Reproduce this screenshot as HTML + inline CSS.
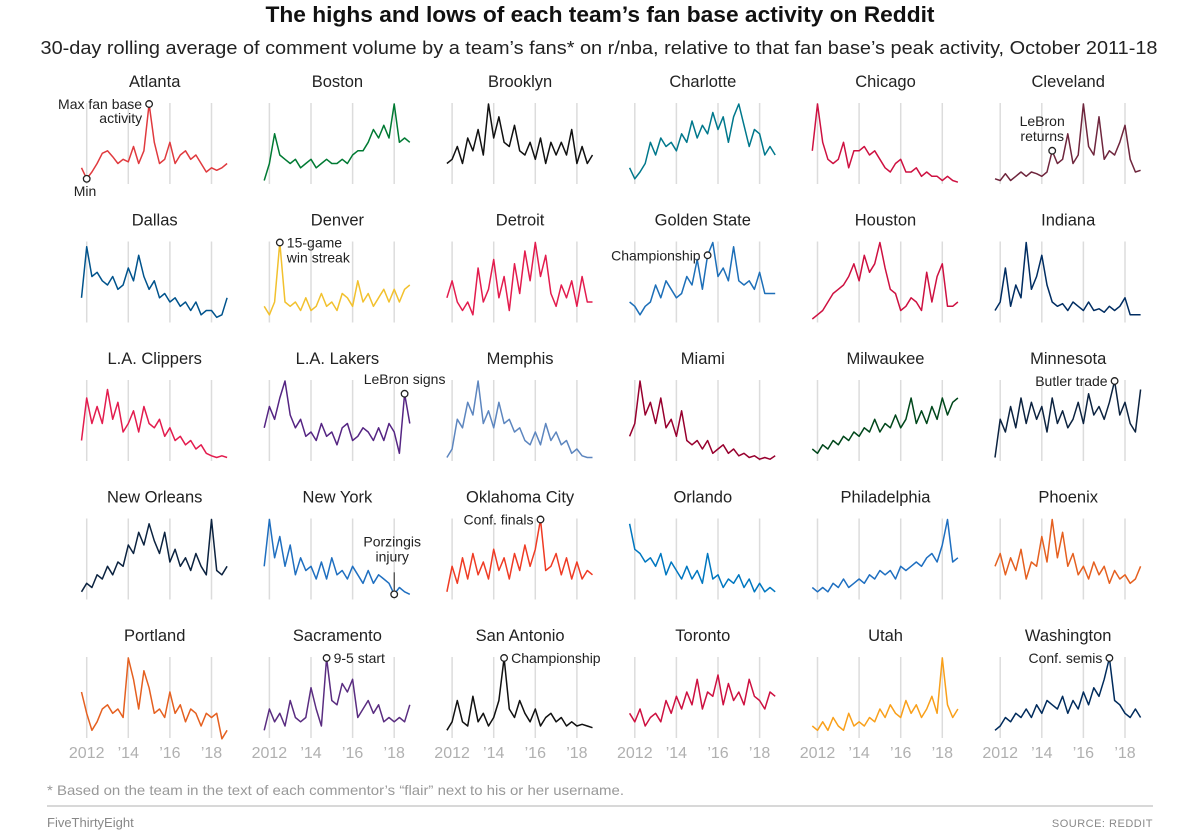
<!DOCTYPE html>
<html><head><meta charset="utf-8">
<style>
html,body{margin:0;padding:0;background:#fff;}
svg{display:block;font-family:"Liberation Sans",sans-serif;}
</style></head>
<body>
<svg id="chart" width="1200" height="836" viewBox="0 0 1200 836" xmlns="http://www.w3.org/2000/svg">
<text x="600" y="22" text-anchor="middle" font-size="22" font-weight="bold" fill="#111" textLength="669" lengthAdjust="spacingAndGlyphs">The highs and lows of each team’s fan base activity on Reddit</text>
<text x="599" y="54" text-anchor="middle" font-size="18.5" fill="#222" textLength="1117" lengthAdjust="spacingAndGlyphs">30-day rolling average of comment volume by a team’s fans* on r/nba, relative to that fan base’s peak activity, October 2011-18</text>
<g id="panels"></g>
<text x="47" y="795" font-size="14" fill="#999" textLength="577" lengthAdjust="spacingAndGlyphs">* Based on the team in the text of each commentor’s “flair” next to his or her username.</text>
<line x1="47" y1="806" x2="1153" y2="806" stroke="#ccc" stroke-width="1.5"/>
<text x="47" y="827" font-size="13" fill="#888">FiveThirtyEight</text>
<text x="1153" y="827" font-size="11" fill="#888" text-anchor="end" letter-spacing="0.5">SOURCE: REDDIT</text>
</svg>
<script>
const teams = ["Atlanta","Boston","Brooklyn","Charlotte","Chicago","Cleveland","Dallas","Denver","Detroit","Golden State","Houston","Indiana","L.A. Clippers","L.A. Lakers","Memphis","Miami","Milwaukee","Minnesota","New Orleans","New York","Oklahoma City","Orlando","Philadelphia","Phoenix","Portland","Sacramento","San Antonio","Toronto","Utah","Washington"];
const colors = ["#e03a3e","#007a33","#111111","#00788c","#ce1141","#6f263d","#00538c","#f2c12e","#e31c4e","#1d6fb8","#ce1141","#002d62","#e31c4e","#552583","#5d86bf","#98002e","#00471b","#0c2340","#0c2340","#1f6fc0","#ef3b24","#0077c0","#1f6fc0","#e56020","#e56020","#5a2d81","#111111","#ce1141","#f9a01b","#002b5c"];
const yearTicks = ["2012","’14","’16","’18"];
const tickYears = [2012,2014,2016,2018];
const sATL=[0.25,0.12,0.2,0.3,0.42,0.45,0.38,0.3,0.35,0.32,0.5,0.3,0.45,1.0,0.55,0.3,0.35,0.55,0.3,0.4,0.45,0.35,0.4,0.3,0.2,0.25,0.22,0.25,0.3];
const sBOS=[0.1,0.3,0.65,0.4,0.35,0.3,0.35,0.25,0.3,0.35,0.25,0.3,0.35,0.3,0.3,0.35,0.3,0.4,0.45,0.45,0.55,0.7,0.6,0.75,0.6,1.0,0.55,0.6,0.55];
const sBKN=[0.3,0.35,0.5,0.3,0.6,0.45,0.7,0.4,1.0,0.6,0.85,0.55,0.5,0.75,0.45,0.4,0.55,0.35,0.6,0.3,0.55,0.4,0.55,0.4,0.7,0.3,0.5,0.3,0.4];
const sCHA=[0.25,0.12,0.2,0.3,0.55,0.4,0.6,0.5,0.55,0.45,0.65,0.55,0.8,0.6,0.75,0.65,0.9,0.7,0.85,0.55,0.85,1.0,0.75,0.5,0.7,0.65,0.4,0.5,0.4];
const sCHI=[0.45,1.0,0.55,0.35,0.3,0.35,0.55,0.25,0.45,0.45,0.5,0.4,0.45,0.35,0.25,0.2,0.3,0.35,0.2,0.2,0.25,0.15,0.2,0.15,0.15,0.1,0.15,0.1,0.08];
const sCLE=[0.12,0.1,0.18,0.1,0.15,0.2,0.15,0.2,0.18,0.15,0.2,0.45,0.3,0.35,0.65,0.3,0.4,1.0,0.5,0.4,0.85,0.35,0.45,0.4,0.55,0.75,0.35,0.2,0.22];
const sDAL=[0.35,0.95,0.6,0.65,0.55,0.5,0.6,0.45,0.5,0.7,0.55,0.85,0.6,0.45,0.55,0.35,0.4,0.3,0.35,0.25,0.3,0.2,0.3,0.15,0.2,0.2,0.12,0.15,0.35];
const sDEN=[0.25,0.15,0.3,1.0,0.3,0.25,0.3,0.2,0.35,0.2,0.25,0.4,0.25,0.3,0.2,0.4,0.35,0.25,0.55,0.3,0.4,0.25,0.35,0.45,0.3,0.45,0.3,0.45,0.5];
const sDET=[0.35,0.55,0.3,0.2,0.3,0.15,0.7,0.3,0.45,0.8,0.35,0.6,0.2,0.75,0.4,0.9,0.55,1.0,0.6,0.85,0.4,0.25,0.5,0.35,0.55,0.25,0.6,0.3,0.3];
const sGSW=[0.3,0.25,0.15,0.25,0.3,0.5,0.35,0.55,0.45,0.35,0.4,0.6,0.5,0.8,0.45,0.85,1.0,0.6,0.7,0.55,0.95,0.55,0.5,0.55,0.45,0.65,0.4,0.4,0.4];
const sHOU=[0.1,0.15,0.2,0.3,0.4,0.45,0.5,0.6,0.75,0.55,0.85,0.65,0.75,1.0,0.7,0.45,0.4,0.2,0.25,0.35,0.3,0.2,0.65,0.3,0.6,0.75,0.25,0.25,0.3];
const sIND=[0.2,0.3,0.7,0.25,0.5,0.35,1.0,0.45,0.6,0.85,0.5,0.3,0.25,0.28,0.2,0.3,0.25,0.2,0.3,0.2,0.22,0.18,0.25,0.2,0.25,0.35,0.15,0.15,0.15];
const sLAC=[0.3,0.8,0.5,0.7,0.5,0.9,0.55,0.75,0.4,0.5,0.65,0.4,0.7,0.5,0.45,0.55,0.35,0.45,0.3,0.35,0.25,0.3,0.2,0.25,0.15,0.12,0.1,0.12,0.1];
const sLAL=[0.45,0.7,0.55,0.8,1.0,0.6,0.45,0.55,0.35,0.4,0.3,0.5,0.35,0.4,0.25,0.45,0.5,0.3,0.35,0.45,0.4,0.3,0.45,0.3,0.5,0.4,0.15,0.85,0.5];
const sMEM=[0.1,0.2,0.55,0.45,0.75,0.6,1.0,0.5,0.65,0.45,0.75,0.5,0.55,0.4,0.45,0.3,0.25,0.4,0.25,0.5,0.3,0.4,0.25,0.3,0.15,0.2,0.12,0.1,0.1];
const sMIA=[0.35,0.5,1.0,0.6,0.75,0.5,0.8,0.45,0.55,0.35,0.65,0.3,0.25,0.3,0.2,0.3,0.15,0.2,0.25,0.15,0.2,0.12,0.15,0.1,0.12,0.08,0.1,0.08,0.12];
const sMIL=[0.2,0.15,0.25,0.2,0.3,0.25,0.35,0.3,0.4,0.35,0.45,0.4,0.55,0.4,0.5,0.45,0.6,0.45,0.55,0.8,0.5,0.65,0.5,0.7,0.55,0.8,0.6,0.75,0.8];
const sMIN=[0.1,0.55,0.4,0.7,0.45,0.8,0.5,0.75,0.55,0.7,0.4,0.8,0.5,0.65,0.45,0.55,0.75,0.5,0.85,0.6,0.7,0.55,0.75,1.0,0.6,0.75,0.5,0.4,0.9];
const sNOP=[0.15,0.25,0.2,0.35,0.3,0.45,0.35,0.5,0.45,0.7,0.6,0.85,0.7,0.95,0.75,0.6,0.85,0.5,0.65,0.45,0.55,0.4,0.6,0.45,0.35,1.0,0.4,0.35,0.45];
const sNYK=[0.45,1.0,0.55,0.8,0.45,0.7,0.35,0.55,0.4,0.45,0.3,0.5,0.3,0.55,0.35,0.4,0.3,0.45,0.35,0.25,0.4,0.25,0.35,0.3,0.25,0.12,0.2,0.15,0.12];
const sOKC=[0.15,0.45,0.25,0.55,0.3,0.6,0.35,0.5,0.3,0.65,0.4,0.55,0.3,0.6,0.4,0.7,0.45,0.65,1.0,0.4,0.45,0.6,0.35,0.55,0.3,0.5,0.3,0.4,0.35];
const sORL=[0.95,0.65,0.6,0.5,0.55,0.45,0.6,0.35,0.5,0.4,0.3,0.45,0.3,0.4,0.25,0.6,0.3,0.35,0.2,0.3,0.25,0.35,0.2,0.3,0.15,0.25,0.15,0.2,0.15];
const sPHI=[0.2,0.15,0.2,0.15,0.25,0.2,0.3,0.2,0.25,0.3,0.25,0.35,0.3,0.4,0.35,0.4,0.3,0.45,0.4,0.45,0.5,0.45,0.55,0.6,0.5,0.7,1.0,0.5,0.55];
const sPHX=[0.45,0.6,0.35,0.55,0.4,0.65,0.3,0.5,0.45,0.8,0.5,1.0,0.55,0.85,0.45,0.6,0.35,0.45,0.3,0.5,0.35,0.45,0.25,0.4,0.3,0.35,0.25,0.3,0.45];
const sPOR=[0.6,0.35,0.15,0.25,0.4,0.45,0.35,0.4,0.3,1.0,0.75,0.4,0.85,0.65,0.35,0.4,0.3,0.6,0.35,0.45,0.25,0.4,0.35,0.2,0.35,0.3,0.35,0.05,0.15];
const sSAC=[0.15,0.4,0.25,0.35,0.2,0.5,0.3,0.25,0.3,0.65,0.4,0.2,1.0,0.5,0.45,0.7,0.6,0.75,0.3,0.4,0.5,0.35,0.45,0.25,0.3,0.25,0.3,0.25,0.45];
const sSAS=[0.15,0.25,0.5,0.25,0.2,0.55,0.25,0.35,0.2,0.3,0.5,1.0,0.4,0.3,0.5,0.35,0.25,0.4,0.2,0.3,0.35,0.25,0.3,0.2,0.25,0.2,0.22,0.2,0.18];
const sTOR=[0.35,0.25,0.4,0.2,0.3,0.35,0.25,0.5,0.35,0.55,0.4,0.6,0.45,0.75,0.4,0.6,0.55,0.8,0.45,0.7,0.5,0.6,0.45,0.75,0.55,0.5,0.4,0.6,0.55];
const sUTA=[0.2,0.15,0.25,0.15,0.3,0.2,0.15,0.35,0.2,0.25,0.2,0.3,0.25,0.4,0.3,0.45,0.35,0.3,0.5,0.35,0.45,0.3,0.4,0.55,0.35,1.0,0.45,0.3,0.4];
const sWAS=[0.15,0.2,0.3,0.25,0.35,0.3,0.4,0.3,0.45,0.35,0.5,0.45,0.4,0.55,0.35,0.5,0.4,0.6,0.45,0.65,0.55,0.75,1.0,0.5,0.45,0.35,0.3,0.4,0.3];
const series=[sATL,sBOS,sBKN,sCHA,sCHI,sCLE,sDAL,sDEN,sDET,sGSW,sHOU,sIND,sLAC,sLAL,sMEM,sMIA,sMIL,sMIN,sNOP,sNYK,sOKC,sORL,sPHI,sPHX,sPOR,sSAC,sSAS,sTOR,sUTA,sWAS];
// annotations: team index, data index, label lines, placement
const annTeam=[0,0,5,7,9,13,17,19,20,25,26,29];
const annIdx=[13,1,11,3,15,27,23,25,18,12,11,22];
const annText=[["Max fan base","activity"],["Min"],["LeBron","returns"],["15-game","win streak"],["Championship"],["LeBron signs"],["Butler trade"],["Porzingis","injury"],["Conf. finals"],["9-5 start"],["Championship"],["Conf. semis"]];
const annPos=["left","below","above","right","left","above","left","above","left","right","right","left"];

const NS="http://www.w3.org/2000/svg";
const g=document.getElementById('panels');
const PX_YEAR=20.8;
function colX(c){return 86.7+c*182.7;}
function rowTop(r){return 103+r*138.5;}
function xScale(c,i){return colX(c)+(i-1)*PX_YEAR/4;}
function yScale(r,v){return rowTop(r)+86-v*85;}
function mk(tag,attrs){const e=document.createElementNS(NS,tag);for(const k in attrs)e.setAttribute(k,attrs[k]);return e;}

teams.forEach((name,t)=>{
  const c=t%6,r=Math.floor(t/6);
  const pg=mk('g',{});
  
  
  tickYears.forEach((yr,k)=>{
    const x=colX(c)+(yr-2012)*PX_YEAR;
    const ln=mk('line',{x1:x,x2:x,y1:rowTop(r),y2:rowTop(r)+81,stroke:'#dcdcdc','stroke-width':1.5});
    
    
    pg.appendChild(ln);
    if(r===4){
      const tx=mk('text',{x:x,y:758,'text-anchor':'middle','font-size':16,fill:'#b0b0b0'});
      
      
      tx.textContent=yearTicks[k];
      pg.appendChild(tx);
    }
  });
  const title=mk('text',{x:colX(c)+68,y:rowTop(r)-16,'text-anchor':'middle','font-size':16.5,fill:'#222'});
  
  
  title.textContent=name;
  pg.appendChild(title);
  const d=series[t].map((v,i)=>(i?'L':'M')+xScale(c,i).toFixed(1)+','+yScale(r,v).toFixed(1)).join('');
  const p=mk('path',{d:d,fill:'none',stroke:colors[t],'stroke-width':1.5,'stroke-linejoin':'round'});
  
  
  pg.appendChild(p);
  g.appendChild(pg);
});

annTeam.forEach((t,a)=>{
  const c=t%6,r=Math.floor(t/6);
  const cx=xScale(c,annIdx[a]),cy=yScale(r,series[t][annIdx[a]]);
  const ag=mk('g',{});
  
  
  const pos=annPos[a];const lines=annText[a];
  if(pos==='above'&&lines.length===2&&t===19){
    const ln=mk('line',{x1:cx,x2:cx,y1:cy-4,y2:cy-22,stroke:'#222','stroke-width':1});
    ag.appendChild(ln);
  }
  lines.forEach((s,k)=>{
    let x,y,anchor;
    if(pos==='left'){x=cx-7;y=cy+5+k*14;anchor='end';}
    else if(pos==='right'){x=cx+7;y=cy+5+k*15;anchor='start';}
    else if(pos==='below'){x=cx-13;y=cy+17;anchor='start';}
    else {x=cx-(t===5?10:0);y=cy-10-(lines.length-1-k)*15;anchor='middle'; if(t===19){y=cy-33-(lines.length-1-k)*15;x=cx-2;}}
    const tx=mk('text',{x:x,y:y,'text-anchor':anchor,'font-size':14,fill:'#222'});
    
    
    tx.textContent=s;
    ag.appendChild(tx);
  });
  const ci=mk('circle',{cx:cx,cy:cy,r:3.3,fill:'#fff',stroke:'#222','stroke-width':1.3});
  
  
  ag.appendChild(ci);
  g.appendChild(ag);
});
</script>
</body></html>
